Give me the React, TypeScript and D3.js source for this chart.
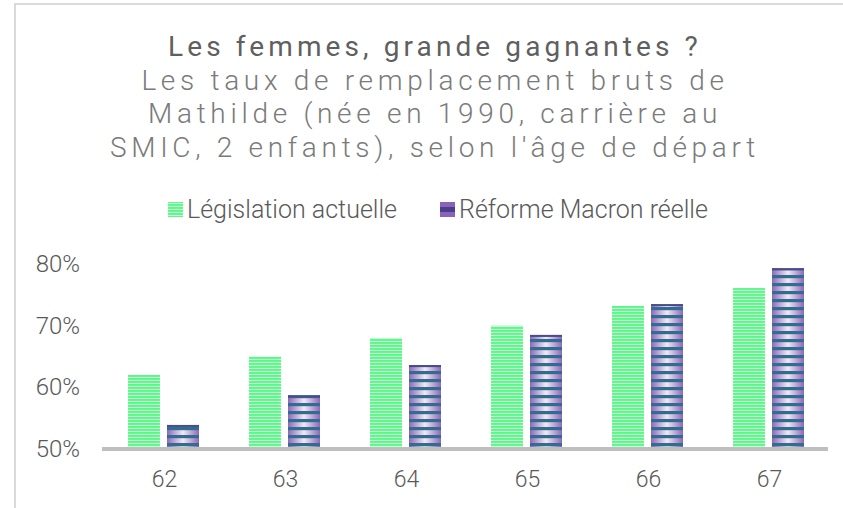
import { useEffect, useRef } from "react";
import * as d3 from "d3";

const ages = ["62", "63", "64", "65", "66", "67"];
const legislationActuelle = [62, 65, 68, 70, 73.2, 76.1];
const reformeMacron = [53.9, 58.7, 63.6, 68.5, 73.5, 79.3];
const yTicks = [50, 60, 70, 80];
const titleLines = [
  "Les femmes, grande gagnantes ?",
  "Les taux de remplacement bruts de",
  "Mathilde (née en 1990, carrière au",
  "SMIC, 2 enfants), selon l'âge de départ",
];
const seriesNames = ["Législation actuelle", "Réforme Macron réelle"];

export default function App() {
  const svgRef = useRef<SVGSVGElement>(null);

  useEffect(() => {
    const width = 843;
    const height = 508;
    const svg = d3.select(svgRef.current);
    svg.selectAll("*").remove();

    const defs = svg.append("defs");

    // green stripes
    const pg = defs.append("pattern")
      .attr("id", "greenStripes")
      .attr("patternUnits", "userSpaceOnUse")
      .attr("width", 8).attr("height", 3);
    pg.append("rect").attr("width", 8).attr("height", 3).attr("fill", "#c4fdd4");
    pg.append("rect").attr("width", 8).attr("height", 1.9).attr("fill", "#5cf78a");

    // purple gradient + teal stripes
    const gr = defs.append("linearGradient")
      .attr("id", "purpleGrad")
      .attr("x1", 0).attr("x2", 1).attr("y1", 0).attr("y2", 0);
    gr.append("stop").attr("offset", "0%").attr("stop-color", "#9066bb");
    gr.append("stop").attr("offset", "50%").attr("stop-color", "#f3e8f3");
    gr.append("stop").attr("offset", "100%").attr("stop-color", "#9066bb");

    const pp = defs.append("pattern")
      .attr("id", "purpleStripes")
      .attr("patternUnits", "userSpaceOnUse")
      .attr("width", 8).attr("height", 8)
      .attr("y", 449);
    pp.append("rect").attr("y", 2).attr("width", 8).attr("height", 3.2).attr("fill", "#2d6f8e");

    // frame
    svg.append("path")
      .attr("d", `M15,${height} L15,4 L${width},4`)
      .attr("fill", "none")
      .attr("stroke", "#dadada")
      .attr("stroke-width", 2);

    // titles
    svg.selectAll("text.title")
      .data(titleLines)
      .enter()
      .append("text")
      .attr("x", 435)
      .attr("y", (d, i) => 56 + i * 33.7)
      .attr("text-anchor", "middle")
      .attr("font-family", "Roboto")
      .attr("font-weight", (d, i) => (i === 0 ? 400 : 300))
      .attr("font-size", "28px")
      .attr("letter-spacing", (d, i) => (i === 0 ? "4.1px" : "4.7px"))
      .attr("fill", (d, i) => (i === 0 ? "#5f5f5f" : "#7a7a7a"))
      .text(d => d);

    const x = d3.scaleBand()
      .domain(ages)
      .range([102, 828]);

    const y = d3.scaleLinear()
      .domain([50, 80])
      .range([449, 264]);

    // y tick labels
    svg.selectAll("text.ytick")
      .data(yTicks)
      .enter()
      .append("text")
      .attr("x", 80)
      .attr("y", d => y(d) + 8)
      .attr("text-anchor", "end")
      .attr("font-family", "Roboto")
      .attr("font-weight", 300)
      .attr("font-size", "24px")
      .attr("fill", "#595959")
      .text(d => d + "%");

    const barW = 32;
    const off1 = 26;
    const off2 = 65;

    // green bars
    svg.selectAll("rect.green")
      .data(legislationActuelle)
      .enter()
      .append("rect")
      .attr("x", (d, i) => x(ages[i])! + off1)
      .attr("y", d => y(d))
      .attr("width", barW)
      .attr("height", d => y(50) - y(d))
      .attr("fill", "url(#greenStripes)");

    // purple bars
    const pb = svg.selectAll("g.purple")
      .data(reformeMacron)
      .enter()
      .append("g");
    pb.append("rect")
      .attr("x", (d, i) => x(ages[i])! + off2)
      .attr("y", d => y(d))
      .attr("width", barW)
      .attr("height", d => y(50) - y(d))
      .attr("fill", "url(#purpleGrad)");
    pb.append("rect")
      .attr("x", (d, i) => x(ages[i])! + off2)
      .attr("y", d => y(d))
      .attr("width", barW)
      .attr("height", d => y(50) - y(d))
      .attr("fill", "url(#purpleStripes)");
    pb.append("rect")
      .attr("x", (d, i) => x(ages[i])! + off2)
      .attr("y", d => y(d))
      .attr("width", barW)
      .attr("height", 2)
      .attr("fill", "#4a4a8c");

    // baseline
    svg.append("line")
      .attr("x1", 102).attr("x2", 828)
      .attr("y1", y(50)).attr("y2", y(50))
      .attr("stroke", "#bfbfbf")
      .attr("stroke-width", 4);

    // x labels
    svg.selectAll("text.xtick")
      .data(ages)
      .enter()
      .append("text")
      .attr("x", d => x(d)! + x.bandwidth() / 2 + 2)
      .attr("y", 487)
      .attr("text-anchor", "middle")
      .attr("font-family", "Roboto")
      .attr("font-weight", 300)
      .attr("font-size", "23px")
      .attr("fill", "#595959")
      .text(d => d);

    // legend
    const legendX = [168, 440];
    seriesNames.forEach((name, i) => {
      if (i === 1) {
        svg.append("rect")
          .attr("x", legendX[i]).attr("y", 202)
          .attr("width", 15).attr("height", 15)
          .attr("fill", "#8a63b8");
        svg.append("rect")
          .attr("x", legendX[i]).attr("y", 207)
          .attr("width", 15).attr("height", 5)
          .attr("fill", "#4a3d8c");
      } else {
        svg.append("rect")
          .attr("x", legendX[i]).attr("y", 202)
          .attr("width", 15).attr("height", 15)
          .attr("fill", "url(#greenStripes)");
      }
      svg.append("text")
        .attr("x", legendX[i] + 19)
        .attr("y", 218)
        .attr("font-family", "Roboto")
        .attr("font-weight", 300)
        .attr("font-size", "25px")
        .attr("fill", "#595959")
        .text(name);
    });
  }, []);

  return (
    <svg
      ref={svgRef}
      width={843}
      height={508}
      style={{ position: "absolute", left: 0, top: 0, background: "#fff" }}
    ></svg>
  );
}
